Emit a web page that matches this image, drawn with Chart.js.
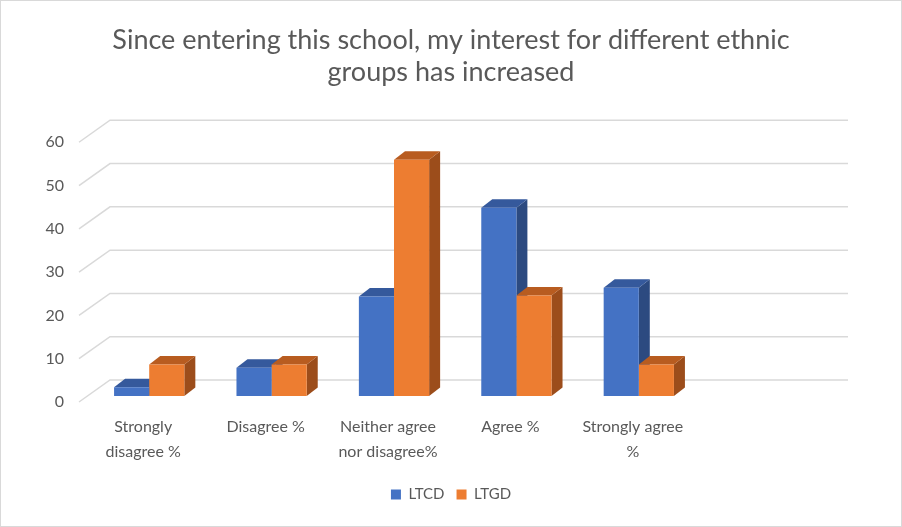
<!DOCTYPE html>
<html lang="en">
<head>
<meta charset="UTF-8">
<title>Interest for different ethnic groups</title>
<script src="https://cdn.jsdelivr.net/npm/chart.js"></script>
<style>
    body {
        margin: 0;
        padding: 0;
        background: #fff;
    }
    .chart-box {
        width: 902px;
        height: 527px;
    }
</style>
</head>
<body>
<div class="chart-box"><canvas id="surveyChart" width="902" height="527"></canvas></div>
<script>
    const categories = [
        ['Strongly', 'disagree %'],
        'Disagree %',
        ['Neither agree', 'nor disagree%'],
        'Agree %',
        ['Strongly agree', '%']
    ];
    const ltcd = [2, 6.5, 23, 43.5, 25];
    const ltgd = [7.3, 7.3, 54.6, 23.2, 7.3];
    const seriesNames = ['LTCD', 'LTGD'];
    const yTicks = [0, 10, 20, 30, 40, 50, 60];

    const FONT = 'Lato, "Open Sans", sans-serif';
    const TEXT = '#595959';
    const GRID = '#d9d9d9';

    // fake 3D: bar depth and floor depth offsets
    const DX = 11, DY = 8.5;
    const FLOOR_X = 31, FLOOR_Y = 22, LABEL_DROP = 6;
    const WALL_RIGHT = 848;
    const shades = [
        { top: '#35599C', side: '#2C4A80' },
        { top: '#B85C20', side: '#9C4D1B' }
    ];

    const box3d = {
        id: 'box3d',
        beforeDraw(chart) {
            const ctx = chart.ctx;
            ctx.save();
            ctx.fillStyle = '#fff';
            ctx.fillRect(0, 0, chart.width, chart.height);
            ctx.strokeStyle = GRID;
            ctx.lineWidth = 1;
            ctx.strokeRect(0.5, 0.5, chart.width - 1, chart.height - 1);
            ctx.restore();
        },
        beforeDatasetsDraw(chart) {
            const { ctx, chartArea, scales } = chart;
            const y = scales.y;
            ctx.save();

            // floor diagonals + back wall gridlines
            ctx.strokeStyle = GRID;
            ctx.lineWidth = 1.5;
            const x0 = chartArea.left - 9;
            y.ticks.forEach(t => {
                const yy = y.getPixelForValue(t.value) + LABEL_DROP;
                ctx.beginPath();
                ctx.moveTo(x0, yy);
                ctx.lineTo(x0 + FLOOR_X, yy - FLOOR_Y);
                ctx.lineTo(WALL_RIGHT, yy - FLOOR_Y);
                ctx.stroke();
            });

            // side and top faces, fronts are drawn by chart.js afterwards
            chart.data.datasets.forEach((ds, i) => {
                chart.getDatasetMeta(i).data.forEach(bar => {
                    const p = bar.getProps(['x', 'y', 'base', 'width'], true);
                    const l = p.x - p.width / 2, r = p.x + p.width / 2;
                    ctx.fillStyle = shades[i].side;
                    ctx.beginPath();
                    ctx.moveTo(r, p.y);
                    ctx.lineTo(r + DX, p.y - DY);
                    ctx.lineTo(r + DX, p.base - DY);
                    ctx.lineTo(r, p.base);
                    ctx.closePath();
                    ctx.fill();
                    ctx.fillStyle = shades[i].top;
                    ctx.beginPath();
                    ctx.moveTo(l, p.y);
                    ctx.lineTo(r, p.y);
                    ctx.lineTo(r + DX, p.y - DY);
                    ctx.lineTo(l + DX, p.y - DY);
                    ctx.closePath();
                    ctx.fill();
                });
            });
            ctx.restore();
        }
    };

    const ctx = document.getElementById('surveyChart').getContext('2d');
    new Chart(ctx, {
        type: 'bar',
        data: {
            labels: categories,
            datasets: [
                { label: seriesNames[0], data: ltcd, backgroundColor: '#4472C4' },
                { label: seriesNames[1], data: ltgd, backgroundColor: '#ED7D31' }
            ]
        },
        options: {
            responsive: false,
            animation: false,
            layout: {
                padding: { top: 24, right: 0, bottom: 15, left: 0 }
            },
            datasets: {
                bar: {
                    categoryPercentage: 0.574,
                    barPercentage: 1
                }
            },
            plugins: {
                title: {
                    display: true,
                    text: ['Since entering this school, my interest for different ethnic', 'groups has increased'],
                    color: TEXT,
                    font: { family: FONT, size: 27, weight: 'normal', lineHeight: 1.19 },
                    padding: { top: 0, bottom: 48 }
                },
                legend: {
                    position: 'bottom',
                    labels: {
                        color: TEXT,
                        font: { family: FONT, size: 15 },
                        boxWidth: 10,
                        boxHeight: 10,
                        padding: 12
                    }
                },
                tooltip: { enabled: false }
            },
            scales: {
                x: {
                    grid: { display: false },
                    border: { display: false },
                    ticks: {
                        color: TEXT,
                        font: { family: FONT, size: 16, lineHeight: 1.56 },
                        maxRotation: 0,
                        autoSkip: false,
                        padding: 10,
                        labelOffset: -6
                    },
                    afterFit(scale) { scale.height = 79; }
                },
                y: {
                    min: 0,
                    max: 60,
                    afterBuildTicks(scale) { scale.ticks = yTicks.map(v => ({ value: v })); },
                    grid: { display: false },
                    border: { display: false },
                    ticks: {
                        color: TEXT,
                        font: { family: FONT, size: 16 },
                        padding: 16,
                        labelOffset: LABEL_DROP
                    },
                    afterFit(scale) { scale.width = 88; }
                },
                // empty space to the right of the bars (back wall continues there)
                spacer: {
                    position: 'right',
                    grid: { display: false },
                    border: { display: false },
                    ticks: { display: false },
                    afterFit(scale) { scale.width = 202; }
                }
            }
        },
        plugins: [box3d]
    });
</script>
</body>
</html>
